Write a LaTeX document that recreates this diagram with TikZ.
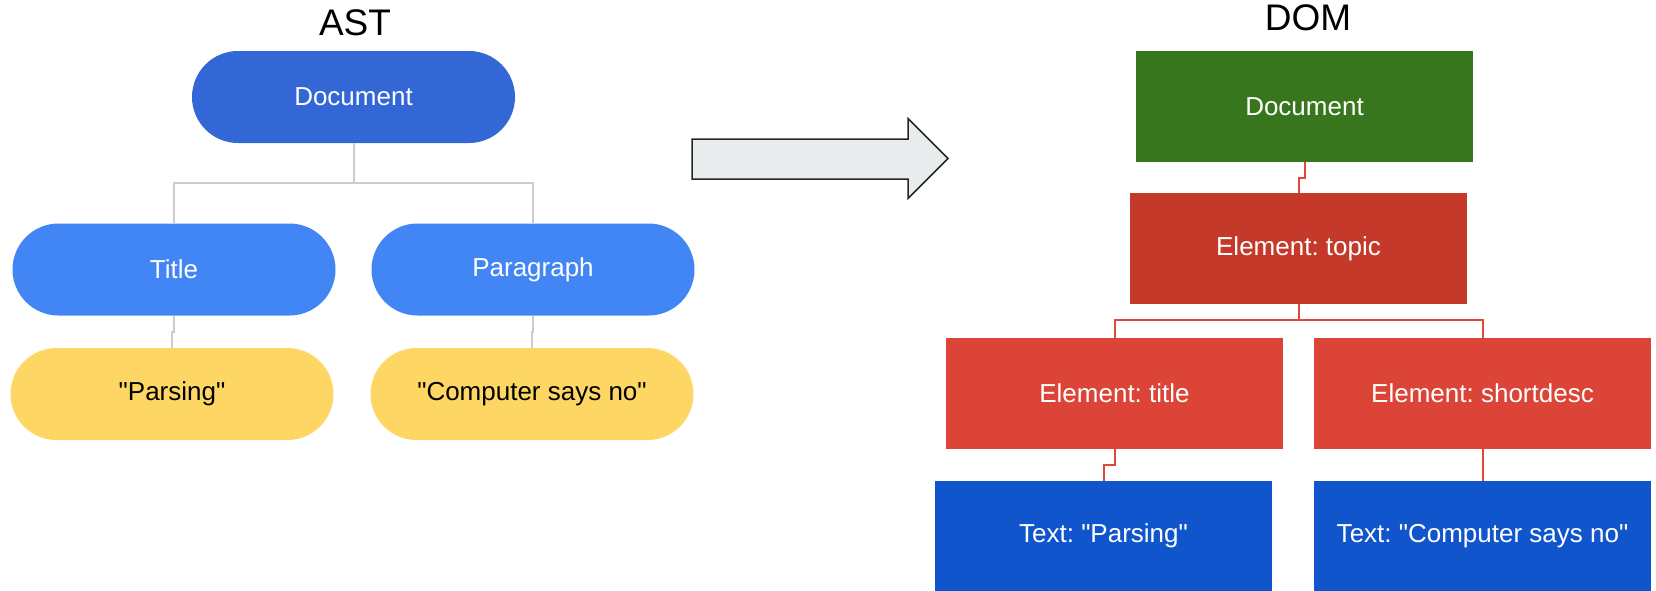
\documentclass[tikz,border=0pt]{standalone}
\usepackage{fontspec}
\setmainfont{Liberation Sans}[Ligatures=TeXOff]
\frenchspacing
\definecolor{astdoc}{HTML}{3367D6}
\definecolor{astmid}{HTML}{4285F4}
\definecolor{astleaf}{HTML}{FDD663}
\definecolor{domdoc}{HTML}{38761D}
\definecolor{domtopic}{HTML}{C5392A}
\definecolor{domel}{HTML}{DB4437}
\definecolor{domtext}{HTML}{1155CC}
\definecolor{graylink}{HTML}{CCCCCC}
\definecolor{redlink}{HTML}{E0483A}
\definecolor{arrowfill}{HTML}{E8ECEC}
\begin{document}
\begin{tikzpicture}[x=1pt,y=-1pt,
  pill/.style={rounded corners=46pt, minimum width=323pt, minimum height=92pt, inner sep=0pt, outer sep=0pt, font=\fontsize{26}{30}\selectfont},
  domb/.style={minimum width=337pt, minimum height=111pt, inner sep=0pt, outer sep=0pt, text=white, font=\fontsize{26}{30}\selectfont},
  ttl/.style={font=\fontsize{37}{42}\selectfont, inner sep=0pt},
  glink/.style={draw=graylink, line width=2pt},
  rlink/.style={draw=redlink, line width=2pt},
  bigarrow/.style={fill=arrowfill, draw=black!85, line width=1.5pt, line join=miter}
]
\useasboundingbox (0,0) rectangle (1656,590);

% titles
\node[ttl] (astt) at (355,23) {AST};
\node[ttl] (domt) at (1308,18) {DOM};

% AST tree
\node[pill, fill=astdoc, text=white] (adoc) at (353.5,97) {Document};
\node[pill, fill=astmid, text=white] (atitle) at (174,269.5) {Title};
\node[pill, fill=astmid, text=white] (apara) at (533,269.5) {Paragraph};
\node[pill, fill=astleaf, text=black] (apars) at (172,394) {"Parsing"};
\node[pill, fill=astleaf, text=black] (acomp) at (532,394) {"Computer says no"};

\draw[glink] (adoc.south) -- ++(0,40) -| (atitle.north);
\draw[glink] (adoc.south) ++(0,40) -| (apara.north);
\draw[glink] (atitle.south) -- ++(0,16.5) -| (apars.north);
\draw[glink] (apara.south) -- ++(0,16.5) -| (acomp.north);

% big arrow
\draw[bigarrow] (692,139) -- (908,139) -- (908,118.5) -- (948,158.5) -- (908,198.5) -- (908,179) -- (692,179) -- cycle;

% DOM tree
\node[domb, fill=domdoc] (ddoc) at (1304.5,106.5) {Document};
\node[domb, fill=domtopic] (dtopic) at (1298.5,248.5) {Element: topic};
\node[domb, fill=domel] (dtitle) at (1114.5,393) {Element: title};
\node[domb, fill=domel] (dshort) at (1482.5,393) {Element: shortdesc};
\node[domb, fill=domtext] (dtextp) at (1103.5,536) {Text: "Parsing"};
\node[domb, fill=domtext] (dtextc) at (1482.5,536) {Text: "Computer says no"};

\draw[rlink] (ddoc.south) -- ++(0,16) -| (dtopic.north);
\draw[rlink] (dtopic.south) -- ++(0,16) -| (dtitle.north);
\draw[rlink] (dtopic.south) ++(0,16) -| (dshort.north);
\draw[rlink] (dtitle.south) -- ++(0,16.5) -| (dtextp.north);
\draw[rlink] (dshort.south) -- (dtextc.north);
\end{tikzpicture}
\end{document}
